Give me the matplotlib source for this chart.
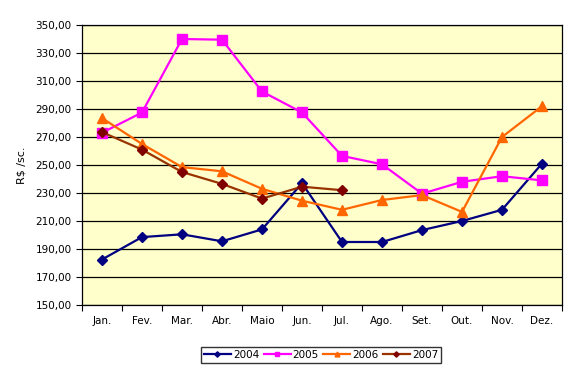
import numpy as np
import matplotlib
matplotlib.use("Agg")
import matplotlib.pyplot as plt

months = ["Jan.", "Fev.", "Mar.", "Abr.", "Maio", "Jun.", "Jul.", "Ago.", "Set.", "Out.", "Nov.", "Dez."]
v2004 = [182.5, 198.5, 200.5, 195.5, 204, 237, 195, 195, 203.5, 210, 218, 251]
v2005 = [273, 287.5, 340, 339.5, 302.5, 287.5, 256.5, 250.5, 229.5, 238, 242, 239]
v2006 = [283.5, 265, 248.5, 245.5, 233, 224.5, 218, 225, 228.5, 216.5, 270, 292]
v2007 = [273.5, 261, 245, 236.5, 226, 234.5, 232]

plt.rcParams['font.family'] = ['DejaVu Sans']
fig = plt.figure(figsize=(5.77, 3.75), dpi=100)
ax = fig.add_axes([82 / 577, 1 - 305 / 375, 480 / 577, 280 / 375])
ax.set_facecolor("#FFFFCC")

x = np.arange(12) + 0.5
ax.plot(x, v2004, color="#000080", marker="D", ms=5.5, lw=1.6, label="2004")
ax.plot(x, v2005, color="#FF00FF", marker="s", ms=7, lw=1.6, label="2005")
ax.plot(x, v2006, color="#FF6600", marker="^", ms=7, lw=1.6, label="2006")
ax.plot(x[:len(v2007)], v2007, color="#993300", marker="D", ms=5.5, lw=1.6,
        mfc="#800000", mec="#800000", label="2007")

ax.set_xlim(0, 12)
ax.set_ylim(150, 350)
yt = np.arange(150, 351, 20)
ax.set_yticks(yt)
ax.set_yticklabels([f"{v:.2f}".replace(".", ",") for v in yt], fontsize=7.5)
ax.yaxis.grid(True, color="black", lw=0.9)
ax.set_axisbelow(True)

ax.set_xticks(np.arange(13))
ax.set_xticklabels([])
ax.set_xticks(x, minor=True)
ax.set_xticklabels(months, minor=True, fontsize=7.5)
ax.tick_params(axis="x", which="minor", length=0, pad=8)
ax.tick_params(axis="x", which="major", length=4, direction="out")
ax.tick_params(axis="y", length=4, direction="out")
for s in ax.spines.values():
    s.set_linewidth(0.9)

ax.set_ylabel("R$ /sc.", fontsize=8)
ax.yaxis.set_label_coords(-0.115, 0.5)

fig.legend(loc="center", bbox_to_anchor=(321 / 577, 1 - 355 / 375), ncol=4, fontsize=7.5,
           frameon=True, fancybox=False, edgecolor="black", handlelength=2.6,
           handletextpad=0.2, columnspacing=0.4, borderpad=0.3, markerscale=0.5)

fig.savefig("out.png", dpi=100)
